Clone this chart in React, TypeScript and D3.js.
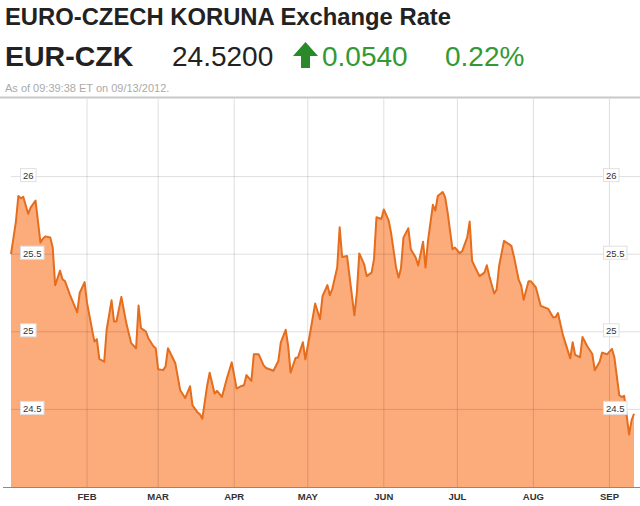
import React from "react";
import * as d3 from "d3";

const dates = [
  "2012-01-01","2012-01-03","2012-01-04","2012-01-05","2012-01-06","2012-01-08","2012-01-09","2012-01-11","2012-01-13","2012-01-14",
  "2012-01-15","2012-01-17","2012-01-18","2012-01-19","2012-01-21","2012-01-22","2012-01-23","2012-01-25","2012-01-28","2012-01-29",
  "2012-01-31","2012-02-01","2012-02-04","2012-02-05","2012-02-06","2012-02-08","2012-02-09","2012-02-11","2012-02-12","2012-02-13",
  "2012-02-15","2012-02-17","2012-02-19","2012-02-21","2012-02-22","2012-02-23","2012-02-25","2012-02-26","2012-02-28","2012-02-29",
  "2012-03-01","2012-03-03","2012-03-04","2012-03-05","2012-03-08","2012-03-10","2012-03-12","2012-03-14","2012-03-15","2012-03-17",
  "2012-03-18","2012-03-19","2012-03-21","2012-03-22","2012-03-24","2012-03-25","2012-03-27","2012-03-29","2012-03-31","2012-04-02",
  "2012-04-04","2012-04-05","2012-04-06","2012-04-08","2012-04-09","2012-04-11","2012-04-13","2012-04-14","2012-04-17","2012-04-19",
  "2012-04-20","2012-04-22","2012-04-23","2012-04-24","2012-04-26","2012-04-27","2012-04-29","2012-04-30","2012-05-02","2012-05-04",
  "2012-05-06","2012-05-07","2012-05-09","2012-05-10","2012-05-11","2012-05-13","2012-05-14","2012-05-15","2012-05-17","2012-05-20",
  "2012-05-21","2012-05-22","2012-05-24","2012-05-25","2012-05-27","2012-05-28","2012-05-29","2012-05-31","2012-06-01","2012-06-03",
  "2012-06-04","2012-06-06","2012-06-07","2012-06-08","2012-06-09","2012-06-11","2012-06-12","2012-06-14","2012-06-15","2012-06-17",
  "2012-06-18","2012-06-19","2012-06-21","2012-06-22","2012-06-23","2012-06-25","2012-06-26","2012-06-27","2012-06-29","2012-06-30",
  "2012-07-02","2012-07-03","2012-07-05","2012-07-06","2012-07-07","2012-07-10","2012-07-12","2012-07-13","2012-07-14","2012-07-16",
  "2012-07-17","2012-07-18","2012-07-20","2012-07-23","2012-07-24","2012-07-26","2012-07-27","2012-07-28","2012-07-30","2012-07-31",
  "2012-08-02","2012-08-04","2012-08-07","2012-08-09","2012-08-10","2012-08-11","2012-08-13","2012-08-16","2012-08-17","2012-08-18",
  "2012-08-20","2012-08-21","2012-08-23","2012-08-25","2012-08-26","2012-08-28","2012-08-29","2012-08-31","2012-09-02","2012-09-03",
  "2012-09-05","2012-09-06","2012-09-07","2012-09-09","2012-09-10","2012-09-11"
];

const rates = [
  25.50,25.71,25.875,25.86,25.87,25.76,25.80,25.846,25.576,25.60,
  25.615,25.608,25.544,25.30,25.394,25.338,25.327,25.24,25.125,25.25,
  25.32,25.186,24.937,24.953,24.825,24.807,25.013,25.203,25.067,25.067,
  25.225,25.056,24.927,24.894,25.169,25.024,25.002,24.959,24.909,24.894,
  24.758,24.753,24.776,24.894,24.797,24.623,24.573,24.649,24.526,24.482,
  24.468,24.44,24.656,24.736,24.602,24.619,24.58,24.699,24.803,24.634,
  24.651,24.656,24.721,24.684,24.855,24.855,24.784,24.767,24.749,24.812,
  24.932,25.013,24.909,24.737,24.831,24.834,24.933,24.823,24.997,25.182,
  25.081,25.229,25.301,25.236,25.277,25.414,25.673,25.482,25.489,25.106,
  25.251,25.505,25.435,25.359,25.381,25.468,25.738,25.727,25.788,25.716,
  25.633,25.414,25.349,25.41,25.607,25.667,25.532,25.479,25.427,25.58,
  25.414,25.586,25.818,25.781,25.875,25.901,25.868,25.771,25.532,25.543,
  25.506,25.521,25.608,25.71,25.456,25.359,25.381,25.429,25.359,25.247,
  25.273,25.424,25.586,25.554,25.489,25.334,25.299,25.206,25.325,25.325,
  25.286,25.167,25.148,25.093,25.093,25.121,24.98,24.829,24.933,24.851,
  24.836,24.966,24.905,24.857,24.753,24.807,24.866,24.855,24.89,24.836,
  24.591,24.58,24.587,24.338,24.429,24.472
];

const yTicks = [24.5, 25, 25.5, 26];
const yTickLabels = ["24.5", "25", "25.5", "26"];
const monthLabels = ["FEB", "MAR", "APR", "MAY", "JUN", "JUL", "AUG", "SEP"];

const title = "EURO-CZECH KORUNA Exchange Rate";
const symbol = "EUR-CZK";
const lastPrice = "24.5200";
const change = "0.0540";
const changePct = "0.22%";
const asOf = "As of 09:39:38 ET on 09/13/2012.";

const parse = d3.timeParse("%Y-%m-%d");

export default function App() {
  const W = 640, H = 506;
  const left = 11, right = 634, top = 99, bottom = 487;
  const data = dates.map((d, i) => ({ date: parse(d) as Date, v: rates[i] }));
  const first = data[0].date;
  const last = data[data.length - 1].date;
  const x = d3.scaleTime().domain([first, last]).range([left, right]);
  const y = d3.scaleLinear().domain([24, 26.5]).range([bottom, top]);

  const area = d3.area<any>().x(d => x(d.date)).y0(bottom).y1(d => y(d.v));
  const line = d3.line<any>().x(d => x(d.date)).y(d => y(d.v));

  const months = d3.timeMonth.range(d3.timeMonth.offset(d3.timeMonth.floor(first), 1), last);

  const font = "'Liberation Sans', Arial, sans-serif";
  const lfs = 9.5;
  const labelW = (s: string) => {
    let w = 0;
    for (const c of s) w += c === "." ? 0.278 : 0.556;
    return w * lfs;
  };

  const green = "#339933";
  const grid = "rgba(0,0,0,0.13)";

  return (
    <svg width={W} height={H} style={{ position: "absolute", left: 0, top: 0, background: "#fff" }} fontFamily={font}>
      <rect x={0} y={0} width={W} height={H} fill="#fff" />
      {/* header */}
      <text x={5} y={25} fontSize={23.8} fontWeight="bold" fill="#222">{title}</text>
      <text x={5} y={66} fontSize={28.5} fontWeight="bold" fill="#222">{symbol}</text>
      <text x={172} y={66} fontSize={28} fill="#222">{lastPrice}</text>
      <path d="M293,56 L305.5,42 L318,56 L310,56 L310,68 L301,68 L301,56 Z" fill="#2a8a2a" />
      <text x={322} y={66} fontSize={28} fill={green}>{change}</text>
      <text x={445} y={66} fontSize={28} fill={green}>{changePct}</text>
      <text x={5} y={92} fontSize={11} fill="#aaa">{asOf}</text>
      <line x1={0} x2={W} y1={97.5} y2={97.5} stroke="#c8c8c8" strokeWidth={2} />

      {/* area */}
      <path d={area(data) || ""} fill="#fcab7b" />

      {/* grid */}
      {months.map((m, i) => (
        <line key={"vg" + i} x1={x(m)} x2={x(m)} y1={top} y2={bottom} stroke={grid} strokeWidth={1} />
      ))}
      {yTicks.map((t, i) => (
        <line key={"hg" + i} x1={left} x2={W} y1={y(t)} y2={y(t)} stroke={grid} strokeWidth={1} />
      ))}

      <path d={line(data) || ""} fill="none" stroke="#e56d1e" strokeWidth={2} strokeLinejoin="round" />

      {/* bottom axis */}
      <line x1={3} x2={W} y1={bottom + 0.5} y2={bottom + 0.5} stroke="#8a8a8a" strokeWidth={1.2} />

      {/* y labels left & right */}
      {yTicks.map((t, i) => {
        const s = yTickLabels[i];
        const w = labelW(s);
        const yy = y(t);
        return (
          <g key={"yl" + i}>
            {[23, 606].map((tx, j) => (
              <g key={j}>
                <rect x={tx - 2.5} y={yy - 8} width={w + 5} height={13} fill="#fff" stroke="#e0e0e0" strokeWidth={1} />
                <text x={tx} y={yy + 2.5} fontSize={lfs} fill="#333">{s}</text>
              </g>
            ))}
          </g>
        );
      })}

      {/* month labels */}
      {months.map((m, i) => (
        <text key={"ml" + i} x={x(m)} y={500} fontSize={9.5} fontWeight="bold" fill="#333" textAnchor="middle">
          {monthLabels[i]}
        </text>
      ))}
    </svg>
  );
}
